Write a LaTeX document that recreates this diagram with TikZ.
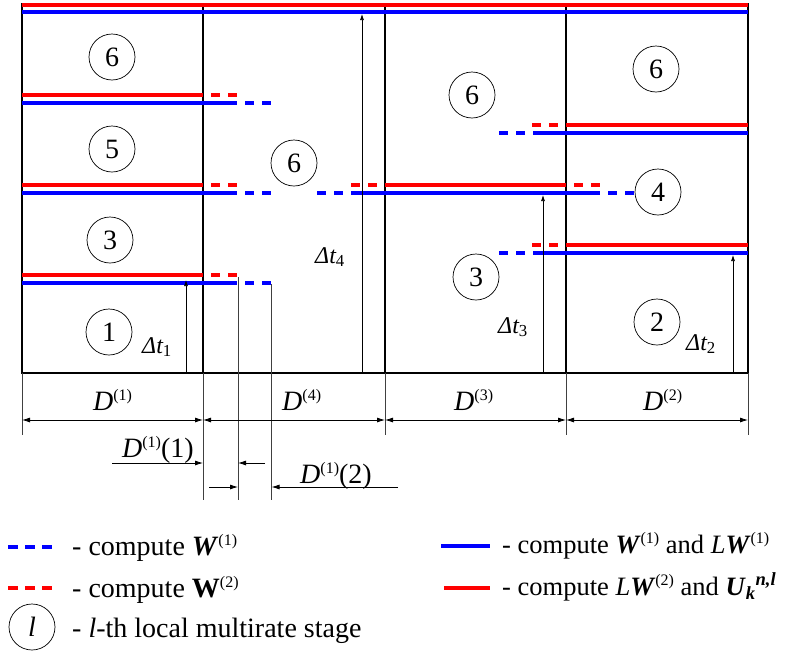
\documentclass[tikz,border=0pt]{standalone}
\usepackage{fontspec}
\setmainfont{Liberation Serif}
\usepackage{tikz}
\usetikzlibrary{arrows.meta, positioning}
\definecolor{cpured}{RGB}{255,0,0}
\definecolor{cpublue}{RGB}{0,0,255}
\newcommand{\bfW}{\textbf{\textit{W}}}
\newcommand{\upidx}[1]{\raisebox{10pt}{\fontsize{16}{18}\selectfont\upshape\mdseries #1}}

\begin{document}
\begin{tikzpicture}[x=1pt, y=-1pt,
  gridline/.style={line width=1.6pt, black},
  redline/.style={line width=4pt, cpured},
  blueline/.style={line width=4pt, cpublue},
  lead/.style={dash pattern=on 9pt off 8pt},
  trail/.style={dash pattern=on 9pt off 8pt, dash phase=9pt},
  stage/.style={circle, draw, line width=0.7pt, minimum size=46pt, inner sep=0pt,
                font=\fontsize{28}{32}\selectfont},
  lbl/.style={inner sep=0pt, anchor=base west, font=\fontsize{28}{32}\selectfont},
  dtlbl/.style={inner sep=0pt, anchor=base west, font=\fontsize{24}{28}\selectfont\itshape},
  dt/.style={-{Latex[length=6pt,width=4pt]}, line width=0.7pt},
  dim/.style={{Latex[length=8pt,width=5pt]}-{Latex[length=8pt,width=5pt]}, line width=0.8pt},
  dimr/.style={-{Latex[length=8pt,width=5pt]}, line width=0.8pt},
  ext/.style={line width=0.8pt, black!75}
]
\useasboundingbox (0,0) rectangle (788,651);

% columns
\draw[gridline] (22,4) rectangle (748,373);
\foreach \x in {203,385,566}
  \draw[gridline] (\x,4) -- (\x,373);

% top lines
\draw[redline] (22,4.5) -- (748,4.5);
\draw[blueline] (22,12) -- (748,12);

% D(1) stages
\foreach \y in {95,185,275} {
  \draw[redline] (22,\y) -- (203,\y);
  \draw[redline, trail] (203,\y) -- +(34,0);
  \draw[blueline] (22,{\y+7.5}) -- (237,{\y+7.5});
  \draw[blueline, trail] (237,{\y+7.5}) -- +(34,0);
}

% D(4) -> D(3) -> D(2)
\draw[redline, lead] (351,185) -- (385,185);
\draw[redline] (385,185) -- (566,185);
\draw[redline, trail] (566,185) -- +(34,0);
\draw[blueline, lead] (317,192.5) -- (351,192.5);
\draw[blueline] (351,192.5) -- (600,192.5);
\draw[blueline, trail] (600,192.5) -- +(34,0);

% D(3) -> D(2)
\foreach \y in {125,245} {
  \draw[redline, lead] (532,\y) -- (566,\y);
  \draw[redline] (566,\y) -- (748,\y);
  \draw[blueline, lead] (499,{\y+7.5}) -- (533,{\y+7.5});
  \draw[blueline] (533,{\y+7.5}) -- (748,{\y+7.5});
}

% stages
\node[stage] (a6) at (112,57) {6};
\node[stage] (a5) at (112,149) {5};
\node[stage] (a3) at (110,240) {3};
\node[stage] (a1) at (109,332) {1};
\node[stage] (b6) at (294,163) {6};
\node[stage] (c6) at (472,95) {6};
\node[stage] (c3) at (476,277) {3};
\node[stage] (d6) at (656,69) {6};
\node[stage] (d4) at (658,192) {4};
\node[stage] (d2) at (657,322) {2};

% time steps
\draw[dt] (186,373) -- (186,280);
\draw[dt] (362,373) -- (362,14);
\draw[dt] (543,373) -- (543,195);
\draw[dt] (733,373) -- (733,255);
\node[dtlbl] (dt1) at (142,353) {Δt\textsubscript{\upshape 1}};
\node[dtlbl] (dt4) at (315,263) {Δt\textsubscript{\upshape 4}};
\node[dtlbl] (dt3) at (498,333) {Δt\textsubscript{\upshape 3}};
\node[dtlbl] (dt2) at (686,350) {Δt\textsubscript{\upshape 2}};

% extension lines
\foreach \x in {22,385,566,748}
  \draw[ext] (\x,373) -- (\x,435);
\draw[ext] (203,373) -- (203,500);
\draw[ext] (238,277) -- (238,500);
\draw[ext] (271.5,284) -- (271.5,500);

% domains
\draw[dim] (22,420) -- (203,420);
\draw[dim] (203,420) -- (385,420);
\draw[dim] (385,420) -- (566,420);
\draw[dim] (566,420) -- (748,420);
\node[lbl] (D1) at (93,410) {\textit{D}\upidx{(1)}};
\node[lbl] (D4) at (282,410) {\textit{D}\upidx{(4)}};
\node[lbl] (D3) at (454,410) {\textit{D}\upidx{(3)}};
\node[lbl] (D2) at (643,410) {\textit{D}\upidx{(2)}};

% subdomains
\draw[dimr] (112,463) -- (203,463);
\draw[dimr] (265,463) -- (238,463);
\node[lbl] (D11) at (122,457) {\textit{D}\upidx{(1)}(1)};
\draw[dimr] (209,487) -- (238,487);
\draw[dimr] (398,487) -- (271.5,487);
\node[lbl] (D12) at (300,483) {\textit{D}\upidx{(1)}(2)};

% legend
\draw[blueline, dash pattern=on 10pt off 7pt] (8,547) -- (54,547);
\node[lbl] (k1) at (72,555) {- compute \bfW\upidx{(1)}};
\draw[redline, dash pattern=on 10pt off 7pt] (8,588) -- (54,588);
\node[lbl] (k2) at (72,597) {- compute \textbf{W}\upidx{(2)}};
\node[stage] (kl) at (32,627) {\textit{l}};
\node[lbl] (k3) at (72,637) {- \textit{l}-th local multirate stage};
\draw[blueline] (441,546) -- (490,546);
\node[lbl, font=\fontsize{26.5}{30}\selectfont] (k4) at (502,553)
  {- compute \bfW\upidx{(1)} and \textit{L}\bfW\upidx{(1)}};
\draw[redline] (444,588) -- (490,588);
\node[lbl, font=\fontsize{26.5}{30}\selectfont] (k5) at (502,595)
  {- compute \textit{L}\bfW\upidx{(2)} and
  \textbf{\textit{U}}\textsubscript{\textbf{\textit{k}}}\textsuperscript{\textbf{\textit{n,l}}}};
\end{tikzpicture}
\end{document}
